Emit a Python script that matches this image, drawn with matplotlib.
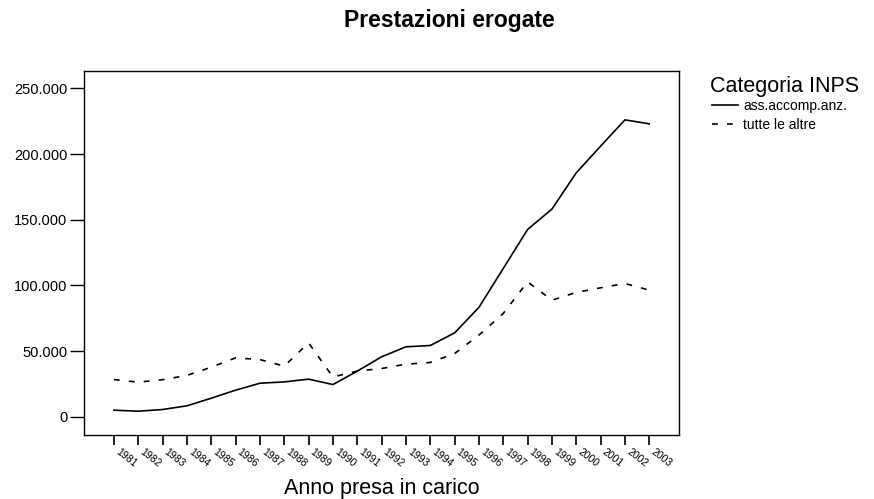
import matplotlib
matplotlib.use("Agg")
import matplotlib.pyplot as plt
import matplotlib.transforms as mtransforms
from matplotlib.ticker import FuncFormatter

plt.rcParams["font.family"] = ["Liberation Sans", "DejaVu Sans"]

anni = list(range(1981, 2004))
ass_accomp = [5100, 4300, 5600, 8400, 14200, 20300, 25600, 26600, 28700, 24600,
              34800, 45700, 53300, 54300, 63900, 83300, 112900, 142600, 158100,
              185700, 206000, 226000, 223000]
tutte_altre = [28400, 26400, 28300, 31500, 37800, 44900, 43600, 38600, 56300, 30400,
               34800, 36800, 40100, 41400, 48200, 62200, 78700, 102700, 88800,
               94700, 98200, 101500, 96400]
y_ticks = [0, 50000, 100000, 150000, 200000, 250000]


def migliaia(v, _pos):
    # thousands separator with a dot
    return f"{int(v):,}".replace(",", ".")


W, H = 874, 499
fig = plt.figure(figsize=(W / 100, H / 100), dpi=100)
ax = fig.add_axes([0.0961, 0.128, 0.681, 0.730])

ax.plot(anni, ass_accomp, color="black", lw=1.2, label="ass.accomp.anz.")
ax.plot(anni, tutte_altre, color="black", lw=1.2, dashes=(3.5, 5.5), label="tutte le altre")

ax.set_xlim(1979.77, 2004.23)
ax.set_ylim(-13900, 263300)
ax.set_yticks(y_ticks)
ax.yaxis.set_major_formatter(FuncFormatter(migliaia))
ax.set_xticks(anni)
ax.set_xticklabels([str(a) for a in anni], rotation=-38, ha="left", va="top",
                   rotation_mode="anchor", fontsize=7.5)
ax.tick_params(axis="y", direction="out", length=10, width=1, labelsize=10.5, pad=2)
ax.tick_params(axis="x", direction="out", length=7, width=1.2, pad=1)
# nudge the slanted year labels to the right of their ticks
# (after tick_params, which would reset the label transforms)
shift = mtransforms.ScaledTranslation(6 / 100, 0, fig.dpi_scale_trans)
for lab in ax.get_xticklabels():
    lab.set_transform(lab.get_transform() + shift)
for s in ax.spines.values():
    s.set_linewidth(1.0)

ax.set_xlabel("Anno presa in carico", fontsize=15.5, va="center")
ax.xaxis.set_label_coords(0.5, (435 - 488) / (0.730 * H))

fig.text(449 / W, 1 - 21 / H, "Prestazioni erogate", ha="center", va="center",
         fontsize=16.5, fontweight="bold")

# legend title drawn on its own, entries below it
fig.text(710 / W, 1 - 92 / H, "Categoria INPS", ha="left", va="baseline", fontsize=15.5)
leg = fig.legend(loc="upper left", bbox_to_anchor=(712 / W, 1 - 99 / H), frameon=False,
                 fontsize=10, handlelength=1.9, handletextpad=0.35, labelspacing=0.35,
                 borderaxespad=0, borderpad=0)

fig.savefig("out.png", dpi=100)
